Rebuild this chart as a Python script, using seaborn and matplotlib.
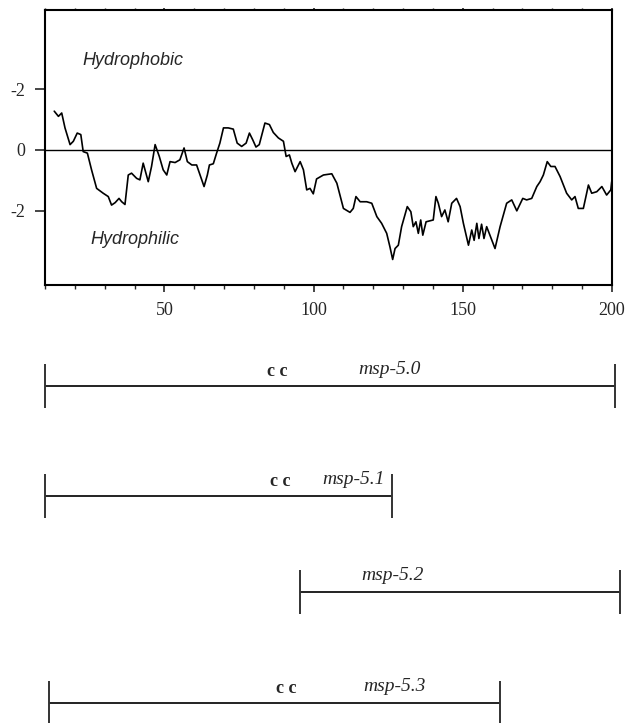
import numpy as np
import pandas as pd
import matplotlib
matplotlib.use('Agg')
import matplotlib.pyplot as plt
from matplotlib.ticker import MultipleLocator
import seaborn as sns

sns.set_style('ticks')
plt.rcParams['font.family'] = ['Liberation Serif', 'DejaVu Serif']

# hydropathy profile (residue, score)
residue = [13.1, 14.5, 15.6, 16.7, 18.4, 19.5, 20.8, 22.0, 22.8, 24.2, 25.6, 27.3,
           29.5, 31.2, 32.3, 33.5, 34.8, 35.7, 36.8, 37.9, 39.0, 40.7, 41.8, 42.9,
           43.8, 44.6, 45.7, 46.9, 48.3, 49.6, 50.8, 51.9, 53.6, 55.2, 56.6, 57.7,
           59.2, 60.8, 62.5, 63.3, 64.4, 65.1, 66.4, 67.5, 68.6, 69.8, 71.4, 73.1,
           74.4, 75.9, 77.4, 78.5, 79.6, 80.7, 81.8, 83.7, 85.2, 86.5, 88.2, 89.9,
           90.8, 91.9, 92.7, 93.8, 95.5, 96.6, 97.7, 98.8, 99.9, 101.0, 103.3, 106.1,
           107.8, 110.0, 112.2, 113.3, 114.2, 115.6, 117.8, 119.5, 121.2, 122.8, 124.5,
           125.6, 126.5, 127.3, 128.4, 129.5, 131.4, 132.6, 133.4, 134.3, 135.1, 135.9,
           136.6, 137.7, 140.1, 141.0, 141.8, 142.9, 144.0, 145.1, 146.3, 147.9, 149.1,
           150.2, 151.9, 153.0, 153.8, 154.7, 155.4, 156.3, 157.1, 158.0, 160.8, 162.5,
           164.7, 166.4, 168.1, 170.1, 171.4, 173.1, 174.8, 175.9, 177.0, 178.3, 179.5,
           180.9, 182.6, 184.8, 186.5, 187.6, 188.7, 190.4, 192.1, 193.2, 194.9, 196.6,
           198.2, 199.6, 199.9]
score = [1.27, 1.10, 1.21, 0.72, 0.17, 0.28, 0.55, 0.50, -0.06, -0.11, -0.66, -1.27,
         -1.43, -1.54, -1.82, -1.74, -1.60, -1.71, -1.80, -0.83, -0.77, -0.94, -0.99, -0.44,
         -0.77, -1.05, -0.55, 0.17, -0.22, -0.66, -0.83, -0.39, -0.42, -0.33, 0.06, -0.39,
         -0.50, -0.50, -0.99, -1.21, -0.83, -0.50, -0.46, -0.11, 0.22, 0.72, 0.72, 0.68,
         0.22, 0.11, 0.22, 0.55, 0.33, 0.09, 0.17, 0.88, 0.83, 0.57, 0.39, 0.28,
         -0.22, -0.17, -0.44, -0.72, -0.39, -0.66, -1.32, -1.27, -1.45, -0.96, -0.83, -0.79,
         -1.10, -1.93, -2.06, -1.93, -1.54, -1.71, -1.71, -1.76, -2.20, -2.42, -2.75,
         -3.20, -3.61, -3.25, -3.14, -2.53, -1.87, -2.04, -2.53, -2.37, -2.75, -2.31,
         -2.81, -2.37, -2.31, -1.54, -1.76, -2.20, -1.98, -2.37, -1.76, -1.60, -1.87,
         -2.42, -3.14, -2.64, -2.98, -2.42, -2.92, -2.45, -2.92, -2.53, -3.25, -2.53,
         -1.76, -1.65, -2.01, -1.60, -1.65, -1.60, -1.21, -1.05, -0.83, -0.39, -0.55,
         -0.55, -0.88, -1.43, -1.65, -1.54, -1.93, -1.93, -1.16, -1.43, -1.38, -1.21,
         -1.49, -1.32, -1.05]

ytick_vals = [2, 0, -2]
ytick_text = ['-2', '0', '-2']
xtick_vals = [50, 100, 150, 200]

# cDNA clones below the profile
clones = ['msp-5.0', 'msp-5.1', 'msp-5.2', 'msp-5.3']
clone_start = [10, 10, 95.5, 11.5]
clone_end = [201, 126.3, 202.7, 162.5]
cc_pos = [84.4, 85.4, None, 87.4]
label_pos = [114.9, 102.8, 115.9, 116.6]

df = pd.DataFrame({'residue': residue, 'score': score})

W, H = 629, 723
fig = plt.figure(figsize=(W / 100, H / 100), dpi=100)
ax = fig.add_axes([45 / W, 1 - 285 / H, (612 - 45) / W, (285 - 10) / H])

sns.lineplot(data=df, x='residue', y='score', ax=ax, color='black', lw=1.2,
             sort=False, estimator=None)
ax.axhline(0, color='black', lw=1.0)

ax.set_xlim(10, 200)
ax.set_ylim(-4.45, 4.6)
ax.set_xlabel('')
ax.set_ylabel('')
ax.set_xticks(xtick_vals)
ax.xaxis.set_minor_locator(MultipleLocator(10))
ax.set_yticks(ytick_vals)
ax.set_yticklabels(ytick_text)
ax.tick_params(axis='x', which='major', length=5, width=1.2, pad=7,
               labelsize=13, direction='out')
ax.tick_params(axis='x', which='minor', length=3, width=1.0, direction='out')
ax.tick_params(axis='x', which='both', top=True)
ax.tick_params(axis='x', which='both', labeltop=False)
ax.tick_params(axis='y', length=7, width=1.2, pad=7, labelsize=13, direction='out')
for t in ax.xaxis.get_major_ticks() + ax.xaxis.get_minor_ticks():
    t.tick2line.set_markersize(1.5)
for sp in ax.spines.values():
    sp.set_visible(True)
    sp.set_linewidth(1.5)
    sp.set_color('black')

ax.text(22.4, 2.94, 'Hydrophobic', family='Liberation Sans', style='italic',
        fontsize=13, va='center', ha='left')
ax.text(25.1, -2.94, 'Hydrophilic', family='Liberation Sans', style='italic',
        fontsize=13, va='center', ha='left')

# clone map panel
ax2 = fig.add_axes([45 / W, 0, (612 - 45) / W, 393 / H])
ax2.set_xlim(10, 200)
ax2.set_ylim(393, 0)
ax2.axis('off')
row_y = [56, 166, 262, 373]
half = 22
for i, name in enumerate(clones):
    y = row_y[i]
    ax2.hlines(y, clone_start[i], clone_end[i], color='#222222', lw=1.4, clip_on=False)
    ax2.vlines([clone_start[i], clone_end[i]], y - half, y + half, color='#333333',
               lw=1.4, clip_on=False)
    if cc_pos[i] is not None:
        ax2.text(cc_pos[i], y - 10, 'c c', fontsize=13, weight='bold', ha='left',
                 va='baseline')
    ax2.text(label_pos[i], y - 12, name, fontsize=14, style='italic', ha='left',
             va='baseline')

fig.savefig('out.png', dpi=100)
